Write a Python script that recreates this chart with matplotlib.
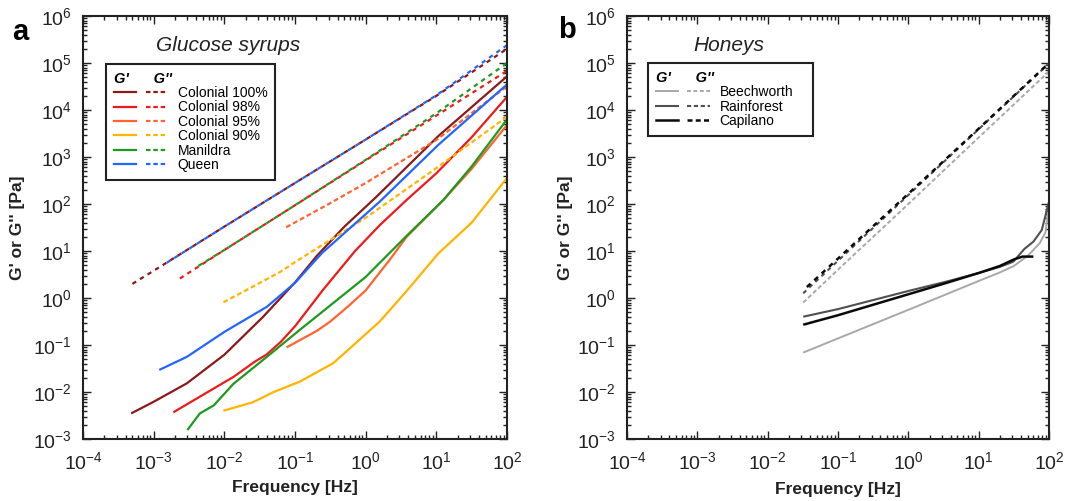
import matplotlib
matplotlib.use("Agg")
import matplotlib.pyplot as plt
from matplotlib.ticker import LogLocator, NullFormatter, FixedLocator, FixedFormatter
from matplotlib.legend_handler import HandlerTuple
from matplotlib.lines import Line2D

plt.rcParams['font.family'] = ['Liberation Sans', 'DejaVu Sans']
plt.rcParams['mathtext.fontset'] = 'custom'
plt.rcParams['mathtext.rm'] = 'Liberation Sans'
plt.rcParams['mathtext.it'] = 'Liberation Sans:italic'
plt.rcParams['mathtext.bf'] = 'Liberation Sans:bold'

# ---------------- Panel a: glucose syrups ----------------
c100_gp_f = [4.8e-4, 1e-3, 2.95e-3, 1e-2, 3.55e-2, 0.1, 0.204, 0.5, 1.41, 10.7, 100]
c100_gp = [3.5e-3, 6.2e-3, 1.53e-2, 6.2e-2, 0.40, 2.14, 7.9, 33, 141, 2800, 5.2e4]
c100_gpp_f = [5e-4, 1e-3, 1e-2, 1e-1, 1, 10, 100]
c100_gpp = [2.0, 3.8, 33, 280, 2350, 2.0e4, 2.0e5]

c98_gp_f = [1.9e-3, 4.47e-3, 1.35e-2, 2.69e-2, 3.98e-2, 6.31e-2, 0.1, 0.251, 0.708, 1.585, 3.8, 10, 31.6, 100]
c98_gp = [3.7e-3, 7.9e-3, 2.1e-2, 4.4e-2, 6.3e-2, 0.117, 0.25, 1.51, 10, 35.5, 122, 450, 2630, 1.9e4]
c98_gpp_f = [2.35e-3, 1e-2, 1e-1, 1, 10, 100]
c98_gpp = [2.6, 10.5, 94, 850, 7600, 6.8e4]

c95_gp_f = [7.6e-2, 0.204, 0.316, 0.562, 1.0, 2.19, 3.8, 12.6, 31.6, 100]
c95_gp = [8.9e-2, 0.2, 0.316, 0.66, 1.45, 6.5, 20, 122, 560, 4800]
c95_gpp_f = [7.5e-2, 0.3, 1, 10, 100]
c95_gpp = [32, 100, 280, 2300, 3.2e4]

c90_gp_f = [9.7e-3, 2.5e-2, 5e-2, 0.117, 0.347, 0.71, 1.58, 3.8, 10.7, 31.6, 100]
c90_gp = [4.0e-3, 6.0e-3, 1.0e-2, 1.66e-2, 4.1e-2, 0.107, 0.316, 1.41, 8.9, 40, 360]
c90_gpp_f = [9.7e-3, 6.2e-2, 0.1, 1, 10, 100]
c90_gpp = [0.81, 3.6, 5.8, 51, 580, 7200]

man_gp_f = [3.0e-3, 4.5e-3, 7.1e-3, 1.35e-2, 4e-2, 0.117, 0.347, 1.0, 1.58, 3.8, 12.6, 31.6, 100]
man_gp = [1.55e-3, 3.5e-3, 5.2e-3, 1.5e-2, 5.6e-2, 0.21, 0.78, 2.8, 5.6, 21, 122, 630, 6300]
man_gpp_f = [3.8e-3, 1e-2, 1e-1, 1, 10, 100]
man_gpp = [4.3, 10.5, 94, 870, 8500, 1.0e5]

que_gp_f = [1.2e-3, 2.95e-3, 1e-2, 4e-2, 0.1, 0.24, 1.58, 10.7, 100]
que_gp = [2.95e-2, 5.6e-2, 0.19, 0.65, 2.1, 9.0, 112, 1820, 3.5e4]
que_gpp_f = [1.35e-3, 1e-2, 1e-1, 1, 10, 100]
que_gpp = [5.0, 33, 280, 2350, 2.05e4, 2.4e5]

syrup_names = ['Colonial 100%', 'Colonial 98%', 'Colonial 95%', 'Colonial 90%', 'Manildra', 'Queen']

# ---------------- Panel b: honeys ----------------
bee_gp_f = [0.032, 0.1, 1, 10, 20, 31.6, 50, 74, 89, 100]
bee_gp = [0.069, 0.138, 0.56, 2.3, 3.5, 4.8, 7.9, 14.8, 25, 89]
bee_gpp_f = [0.032, 0.1, 1, 10, 100]
bee_gpp = [0.8, 4.0, 100, 2600, 6.6e4]

rai_gp_f = [0.032, 0.1, 1, 3.5, 10, 20, 31, 45, 60, 79, 100]
rai_gp = [0.40, 0.58, 1.41, 2.24, 3.4, 4.6, 5.9, 11.2, 15.8, 28, 112]
rai_gpp_f = [0.032, 0.1, 1, 10, 100]
rai_gpp = [1.26, 6.2, 155, 3900, 9.8e4]

cap_gp_f = [0.032, 0.1, 1, 3.5, 10, 20, 31.6, 42, 60]
cap_gp = [0.27, 0.43, 1.2, 2.1, 3.4, 4.8, 6.6, 7.6, 7.6]
cap_gpp_f = [0.032, 0.1, 1, 10, 100]
cap_gpp = [1.45, 6.9, 165, 4000, 1.0e5]

honey_names = ['Beechworth', 'Rainforest', 'Capilano']

x_ticks = [1e-4, 1e-3, 1e-2, 1e-1, 1e0, 1e1, 1e2]
x_labels = [r'$10^{-4}$', r'$10^{-3}$', r'$10^{-2}$', r'$10^{-1}$', r'$10^{0}$', r'$10^{1}$', r'$10^{2}$']
y_ticks = [1e-3, 1e-2, 1e-1, 1e0, 1e1, 1e2, 1e3, 1e4, 1e5, 1e6]
y_labels = [r'$10^{-3}$', r'$10^{-2}$', r'$10^{-1}$', r'$10^{0}$', r'$10^{1}$', r'$10^{2}$',
            r'$10^{3}$', r'$10^{4}$', r'$10^{5}$', r'$10^{6}$']

W, H = 1084, 501
fig = plt.figure(figsize=(W / 100, H / 100), dpi=100)
axa = fig.add_axes([83 / W, 62 / H, 424 / W, 423 / H])
axb = fig.add_axes([627 / W, 62 / H, 422 / W, 423 / H])


def style_axis(ax):
    ax.set_xscale('log')
    ax.set_yscale('log')
    ax.set_xlim(1e-4, 1e2)
    ax.set_ylim(1e-3, 1e6)
    ax.xaxis.set_major_locator(FixedLocator(x_ticks))
    ax.xaxis.set_major_formatter(FixedFormatter(x_labels))
    ax.yaxis.set_major_locator(FixedLocator(y_ticks))
    ax.yaxis.set_major_formatter(FixedFormatter(y_labels))
    ax.xaxis.set_minor_locator(LogLocator(base=10, subs=range(2, 10), numticks=20))
    ax.yaxis.set_minor_locator(LogLocator(base=10, subs=range(2, 10), numticks=20))
    ax.xaxis.set_minor_formatter(NullFormatter())
    ax.yaxis.set_minor_formatter(NullFormatter())
    ax.tick_params(which='both', direction='in', top=True, right=True, width=1.0, colors='#222222')
    ax.tick_params(which='major', length=6, labelsize=14, labelcolor='#222222')
    ax.tick_params(axis='x', which='major', pad=9)
    ax.tick_params(axis='y', which='major', pad=8)
    ax.tick_params(which='minor', length=3)
    for s in ax.spines.values():
        s.set_linewidth(1.5)
        s.set_color('#222222')
    ax.set_xlabel('Frequency [Hz]', fontsize=12.5, fontweight='bold', color='#222222')
    ax.set_ylabel("G' or G'' [Pa]", fontsize=12.5, fontweight='bold', color='#222222')


style_axis(axa)
style_axis(axb)
axa.xaxis.set_label_coords(0.5, -0.098)
axb.xaxis.set_label_coords(0.5, -0.102)
axa.yaxis.set_label_coords(-0.137, 0.5)
axb.yaxis.set_label_coords(-0.128, 0.5)

LW = 1.6
dash_single = (0, (2.2, 1.3))
dash_a = (0, (2.0, 2.0))
dash_b = (2.0, (2.0, 2.0))

syrup_colors = ['#8b1a1a', '#f01a1a', '#ff6430', '#ffb400', '#1e9a1e', '#2266ff']
gp_f_list = [c100_gp_f, c98_gp_f, c95_gp_f, c90_gp_f, man_gp_f, que_gp_f]
gp_list = [c100_gp, c98_gp, c95_gp, c90_gp, man_gp, que_gp]
gpp_f_list = [c100_gpp_f, c98_gpp_f, c95_gpp_f, c90_gpp_f, man_gpp_f, que_gpp_f]
gpp_list = [c100_gpp, c98_gpp, c95_gpp, c90_gpp, man_gpp, que_gpp]
gpp_dash = [dash_a, dash_a, dash_single, dash_single, dash_b, dash_b]

handles_a = []
for name, col, fx, gy, fx2, gy2, ds in zip(syrup_names, syrup_colors, gp_f_list, gp_list,
                                           gpp_f_list, gpp_list, gpp_dash):
    axa.plot(fx2, gy2, color=col, lw=LW, linestyle=ds, dash_capstyle='butt')
    axa.plot(fx, gy, color=col, lw=LW, solid_capstyle='butt')
    h1 = Line2D([], [], color=col, lw=LW)
    h2 = Line2D([], [], color=col, lw=LW, linestyle=(0, (2.0, 1.3)))
    handles_a.append((h1, h2))

honey_colors = ['#a8a8a8', '#505050', '#0a0a0a']
honey_lw = [1.4, 1.5, 1.8]
hgp_f = [bee_gp_f, rai_gp_f, cap_gp_f]
hgp = [bee_gp, rai_gp, cap_gp]
hgpp_f = [bee_gpp_f, rai_gpp_f, cap_gpp_f]
hgpp = [bee_gpp, rai_gpp, cap_gpp]
hdash = [dash_single, dash_a, dash_b]
handles_b = []
for name, col, lw, fx, gy, fx2, gy2, ds in zip(honey_names, honey_colors, honey_lw, hgp_f, hgp,
                                               hgpp_f, hgpp, hdash):
    axb.plot(fx2, gy2, color=col, lw=lw, linestyle=ds, dash_capstyle='butt')
    axb.plot(fx, gy, color=col, lw=lw, solid_capstyle='butt')
    h1 = Line2D([], [], color=col, lw=lw)
    h2 = Line2D([], [], color=col, lw=lw, linestyle=(0, (2.0, 1.3)))
    handles_b.append((h1, h2))


def make_legend(ax, handles, labels, bbox, mode=None):
    leg = ax.legend(handles, labels, handler_map={tuple: HandlerTuple(ndivide=None, pad=0.7)},
                    loc='upper left', bbox_to_anchor=bbox, mode=mode, fontsize=10, handlelength=3.9,
                    handletextpad=0.7, labelspacing=0.03, borderpad=0.55, frameon=True,
                    fancybox=False, framealpha=1, edgecolor='#222222',
                    title="G'      G''", title_fontproperties={'weight': 'bold', 'style': 'italic', 'size': 10.5},
                    alignment='left')
    leg.get_frame().set_linewidth(1.5)
    return leg


make_legend(axa, handles_a, syrup_names, (0.038, 0.903))
make_legend(axb, handles_b, honey_names, (0.033, 0.905, 0.424, 0.0), mode='expand')

axa.text(0.342, 0.931, 'Glucose syrups', transform=axa.transAxes, fontsize=15, style='italic',
         ha='center', va='center', color='#222222')
axb.text(0.242, 0.931, 'Honeys', transform=axb.transAxes, fontsize=15, style='italic',
         ha='center', va='center', color='#222222')

fig.text(20 / W, 1 - 32 / H, 'a', fontsize=21, fontweight='bold', ha='center', va='center')
fig.text(567 / W, 1 - 30 / H, 'b', fontsize=21, fontweight='bold', ha='center', va='center')

fig.savefig('out.png', dpi=100)
